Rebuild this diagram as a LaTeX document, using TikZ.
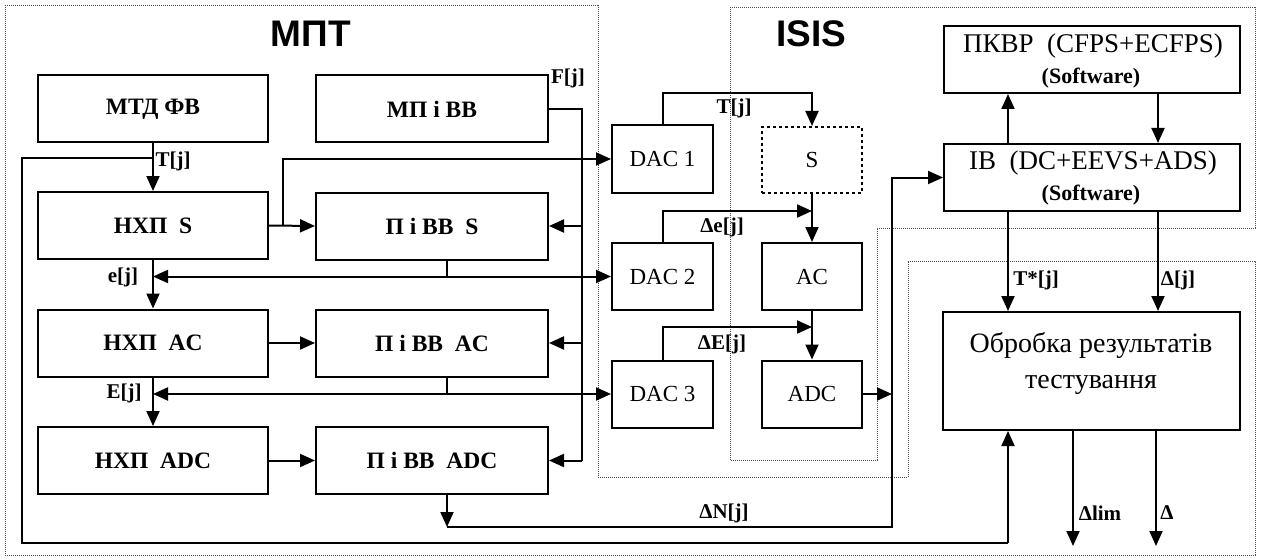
\documentclass[tikz,border=0pt]{standalone}
\usepackage{fontspec}
\setmainfont{Liberation Serif}
\setsansfont{Liberation Sans}
\usetikzlibrary{arrows.meta}
\begin{document}
\begin{tikzpicture}[x=1pt,y=-1pt,
  ln/.style={line width=2pt},
  arr/.style={line width=2pt,-{Triangle[length=15pt,width=13pt]}},
  lbox/.style={draw,line width=2pt,minimum width=230pt,minimum height=67pt,inner sep=0pt,font=\bfseries\fontsize{23.5}{26}\selectfont},
  dbox/.style={draw,line width=2pt,minimum width=101pt,minimum height=67pt,inner sep=0pt,font=\fontsize{23}{26}\selectfont},
  rbox/.style={draw,line width=2pt,minimum width=296pt,minimum height=67pt,inner sep=0pt},
  rtxt/.style={inner sep=0pt,font=\fontsize{27}{32}\selectfont},
  swt/.style={inner sep=0pt,font=\bfseries\fontsize{22}{24}\selectfont},
  lab/.style={inner sep=0pt,font=\bfseries\fontsize{21}{22}\selectfont},
  border/.style={line width=1pt,densely dotted,black!70},
  title/.style={inner sep=0pt,font=\sffamily\bfseries\fontsize{37}{40}\selectfont}
]
\useasboundingbox (0,0) rectangle (1261,559);

% dotted regions
\draw[border] (5,6) -- (598,6) -- (598,477) -- (908,477) -- (908,261) -- (1255,261) -- (1255,555) -- (5,555) -- cycle;
\draw[border] (730,8) -- (1255,8) -- (1255,228) -- (877,228) -- (877,460) -- (730,460) -- cycle;

% titles
\node[title] (tmpt) at (311,34) {МПТ};
\node[title] (tisis) at (811,34) {ISIS};

% left blocks
\node[lbox] (mtd) at (153,109) {МТД ФВ};
\node[lbox,minimum width=232pt] (mpi) at (432,109) {МП і ВВ};
\node[lbox] (hs) at (153,225.5) {НХП\ \ S};
\node[lbox,minimum width=232pt] (ps) at (432,226) {П і ВВ\ \ S};
\node[lbox] (hac) at (153,343) {НХП\ \ AC};
\node[lbox,minimum width=232pt] (pac) at (432,343) {П і ВВ\ \ AC};
\node[lbox] (hadc) at (153,460.5) {НХП\ \ ADC};
\node[lbox,minimum width=232pt] (padc) at (432,460.5) {П і ВВ\ \ ADC};

% middle blocks
\node[dbox] (dac1) at (662.5,159) {DAC 1};
\node[dbox,dashed,minimum width=100pt,minimum height=66pt] (s) at (812,160) {S};
\node[dbox] (dac2) at (662.5,276.5) {DAC 2};
\node[dbox,minimum width=100pt] (ac) at (812,276.5) {AC};
\node[dbox] (dac3) at (662.5,394) {DAC 3};
\node[dbox,minimum width=100pt] (adc) at (812,394) {ADC};

% right blocks
\node[rbox] (pkvr) at (1092,59.5) {};
\node[rtxt,anchor=base] (pkvr1) at (1093,53) {ПКВР\ \ (CFPS+ECFPS)};
\node[swt,anchor=base] (pkvr2) at (1091,84) {(Software)};
\node[rbox] (ib) at (1092,177.5) {};
\node[rtxt,anchor=base] (ib1) at (1093,170) {IB\ \ (DC+EEVS+ADS)};
\node[swt,anchor=base] (ib2) at (1091,200) {(Software)};
\node[rbox,minimum width=297pt,minimum height=118pt] (obr) at (1091.5,371) {};
\node[font=\fontsize{28}{36}\selectfont,anchor=base] (obrt1) at (1091,352) {Обробка результатів};
\node[font=\fontsize{28}{36}\selectfont,anchor=base] (obrt2) at (1091,388) {тестування};

% coordinates
\coordinate (tj) at (153,158);
\coordinate (loopA) at (22,158);
\coordinate (loopB) at (22,543);
\coordinate (loopC) at (1008,543);
\coordinate (hsb) at (283,225.5);
\coordinate (fx) at (582,460.5);
\coordinate (ej) at (447,276.5);
\coordinate (Ej) at (447,394);
\coordinate (dn) at (447,527);
\coordinate (ibin) at (892,177.5);
\coordinate (t1) at (700,93);
\coordinate (d2) at (812,211);
\coordinate (d3) at (812,327);
\coordinate (xa) at (1008,0);
\coordinate (xb) at (1158,0);
\coordinate (o1) at (1073,546);
\coordinate (o2) at (1156,546);

% left connectors
\draw[arr] (mtd.south) -- (hs.north);
\draw[ln] (tj) -- (loopA) -- (loopB) -- (loopC);
\draw[arr] (loopC) -- (loopC |- obr.south);
\draw[arr] (hs.east) -- (ps.west);
\draw[arr] (hsb) |- (dac1.west);
\draw[ln] (mpi.east) -| (fx);
\draw[arr] (fx) -- (padc.east);
\draw[arr] (ps.east -| fx) -- (ps.east);
\draw[arr] (pac.east -| fx) -- (pac.east);
\draw[ln] (ej |- ps.south) -- (ej);
\draw[arr] (ej) -- (dac2.west);
\draw[arr] (ej) -- (ej -| hs.south);
\draw[arr] (hs.south) -- (hac.north);
\draw[arr] (hac.east) -- (pac.west);
\draw[ln] (Ej |- pac.south) -- (Ej);
\draw[arr] (Ej) -- (dac3.west);
\draw[arr] (Ej) -- (Ej -| hac.south);
\draw[arr] (hac.south) -- (hadc.north);
\draw[arr] (hadc.east) -- (padc.west);
\draw[arr] (dn |- padc.south) -- (dn);
\draw[arr] (dn) -| (ibin) -- (ib.west);
\draw[arr] (adc.east) -- (adc.east -| ibin);

% middle connectors
\draw[arr] (dac1.north) -- (dac1.north |- t1) -| (s.north);
\draw[arr] (dac2.north) |- (d2);
\draw[arr] (s.south) -- (ac.north);
\draw[arr] (dac3.north) |- (d3);
\draw[arr] (ac.south) -- (adc.north);

% right connectors
\draw[arr] (ib.north -| xa) -- (pkvr.south -| xa);
\draw[arr] (pkvr.south -| xb) -- (ib.north -| xb);
\draw[arr] (ib.south -| xa) -- (obr.north -| xa);
\draw[arr] (ib.south -| xb) -- (obr.north -| xb);
\draw[arr] (obr.south -| o1) -- (o1);
\draw[arr] (obr.south -| o2) -- (o2);

% labels
\node[lab] (lT) at (173,161) {T[j]};
\node[lab] (lF) at (568,78) {F[j]};
\node[lab] (le) at (123,277) {e[j]};
\node[lab] (lE) at (124,393) {E[j]};
\node[lab] (lT2) at (734,108) {T[j]};
\node[lab] (lde) at (722,227) {Δe[j]};
\node[lab] (ldE) at (722,344) {ΔE[j]};
\node[lab] (ldN) at (724,513) {ΔN[j]};
\node[lab] (lTs) at (1036,280) {T*[j]};
\node[lab] (ldj) at (1178,280) {Δ[j]};
\node[lab] (ldl) at (1100,513) {Δlim};
\node[lab] (ld) at (1167,513) {Δ};
\end{tikzpicture}
\end{document}
